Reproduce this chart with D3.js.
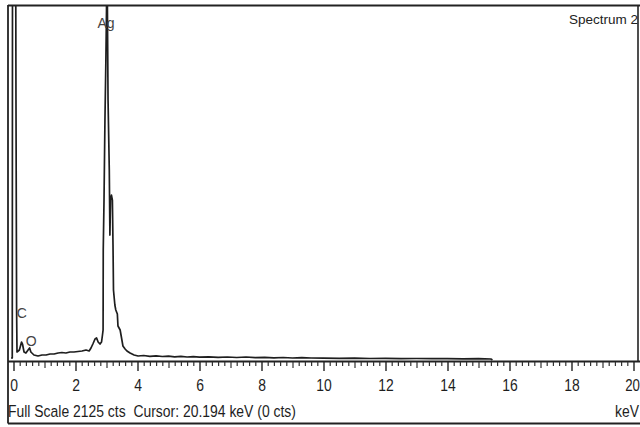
<!DOCTYPE html>
<html><head><meta charset="utf-8">
<script src="https://cdn.jsdelivr.net/npm/d3@7"></script>
<style>html,body{margin:0;padding:0;background:#fff;overflow:hidden}</style>
</head><body>
<svg id="chart" width="640" height="427"></svg>
<script>
// EDS spectrum: energy channels (keV) and counts
const energyKeV = [-0.08,-0.04,-0.03,0.065,0.08,0.10,0.113,0.19,0.26,0.29,0.34,0.40,0.47,0.52,0.56,0.66,0.79,0.92,1.05,1.18,1.31,1.44,1.56,1.69,1.82,1.95,2.08,2.21,2.34,2.44,2.50,2.56,2.63,2.68,2.73,2.79,2.84,2.87,2.89,2.895,2.92,2.95,2.98,3.00,3.016,3.03,3.05,3.09,3.11,3.13,3.16,3.19,3.21,3.225,3.27,3.30,3.35,3.37,3.44,3.48,3.53,3.60,3.66,3.76,3.89,4.02,4.2,4.4,4.6,4.8,5.0,5.2,5.4,5.6,5.8,6.0,6.3,6.6,6.9,7.2,7.5,7.8,8.1,8.4,8.7,9.0,9.3,9.6,10.0,10.5,11.0,11.5,12.0,12.5,13.0,13.5,14.0,14.5,15.0,15.4,15.45];
const countsCts = [12,12,3000,3000,1560,300,48,60,108,96,48,42,60,72,48,30,24,30,30,36,36,42,45,42,48,48,51,54,60,54,72,96,126,132,108,96,108,150,180,660,960,1440,1800,2100,3000,2100,1560,1140,750,960,990,960,690,420,330,300,276,204,180,138,84,66,54,42,30,24,27,22,25,21,23,19,22,18,20,17,19,16,18,15,18,14,16,13,15,12,14,12,11,10,11,9,10,8,9,8,8,7,8,6,0];

// Peak labels (element, line energy, label height in counts)
const peakNames = ["Ag","C","O"];
const peakKeV = [2.984,0.27,0.57];
const peakLabelCts = [1995,255,85];

// Axis ticks
const majorTicks = [0,2,4,6,8,10,12,14,16,18,20];
const xDomain = [0,20];
const fullScale = 2125;
const footerText = "Full Scale 2125 cts  Cursor: 20.194 keV (0 cts)";
const unitText = "keV";
const titleText = "Spectrum 2";

const svg = d3.select("#chart");
const x = d3.scaleLinear().domain(xDomain).range([13.5, 633.5]);
const y = d3.scaleLinear().domain([0, fullScale]).range([360, 6]);

const FONT = "'Liberation Sans', Arial, sans-serif";

// clip region for the spectrum trace
svg.append("defs").append("clipPath").attr("id","plotClip")
  .append("rect").attr("x",8.5).attr("y",6).attr("width",629).attr("height",355);

// spectrum trace
const pts = energyKeV.map((e,i)=>[e,countsCts[i]]);
svg.append("path")
  .datum(pts)
  .attr("clip-path","url(#plotClip)")
  .attr("fill","none")
  .attr("stroke","#1e1e1e")
  .attr("stroke-width",1.7)
  .attr("stroke-linejoin","round")
  .attr("d", d3.line().x(d=>x(d[0])).y(d=>y(d[1])));

// frame
const frame = svg.append("g").attr("stroke","#222").attr("fill","none");
frame.append("line").attr("x1",8).attr("x2",640).attr("y1",5.5).attr("y2",5.5).attr("stroke-width",1.8);
frame.append("line").attr("x1",8).attr("x2",8).attr("y1",5).attr("y2",423.5).attr("stroke-width",1.8);
frame.append("line").attr("x1",638).attr("x2",638).attr("y1",5).attr("y2",362).attr("stroke-width",1.6);
frame.append("line").attr("x1",8).attr("x2",640).attr("y1",361.5).attr("y2",361.5).attr("stroke-width",1.8);
frame.append("line").attr("x1",8).attr("x2",640).attr("y1",423.5).attr("y2",423.5).attr("stroke-width",1.8);

// minor ticks every 0.2 keV, medium every 1 keV, major every 2 keV with labels
const axisY = 362;
const minorVals = d3.range(0, 100.5, 1).map(v=>v/5).filter(v=>Math.round(v*5)%5!==0);
const midVals = d3.range(1, 20, 2);
svg.append("g").attr("transform",`translate(0,${axisY})`)
  .call(d3.axisBottom(x).tickValues(minorVals).tickSize(4).tickFormat(""))
  .call(g=>g.select(".domain").remove())
  .call(g=>g.selectAll("line").attr("stroke","#333").attr("stroke-width",1.2));
svg.append("g").attr("transform",`translate(0,${axisY})`)
  .call(d3.axisBottom(x).tickValues(midVals).tickSize(6).tickFormat(""))
  .call(g=>g.select(".domain").remove())
  .call(g=>g.selectAll("line").attr("stroke","#333").attr("stroke-width",1.2));
const major = svg.append("g").attr("transform",`translate(0,${axisY})`)
  .call(d3.axisBottom(x).tickValues(majorTicks).tickSize(9).tickPadding(0).tickFormat(d3.format("d")))
  .call(g=>g.select(".domain").remove());
major.selectAll("line").attr("stroke","#222").attr("stroke-width",1.4);
major.selectAll("text")
  .attr("y",29).attr("dy",null)
  .attr("fill","#1e1e1e")
  .style("font-family",FONT).style("font-size","17px")
  .attr("transform",d=> d === xDomain[1] ? "translate(-1.5,0) scale(0.78,1)" : "scale(0.82,1)");

// footer status line and unit
svg.append("text")
  .attr("transform","translate(8,417) scale(0.82,1)")
  .attr("fill","#1e1e1e").style("font-family",FONT).style("font-size","17px")
  .style("white-space","pre")
  .text(footerText);
svg.append("text").attr("text-anchor","end")
  .attr("transform","translate(639,417) scale(0.82,1)")
  .attr("fill","#1e1e1e").style("font-family",FONT).style("font-size","17px")
  .text(unitText);

// spectrum name
svg.append("text").attr("x",569).attr("y",24)
  .attr("fill","#222").style("font-family",FONT).style("font-size","13.5px")
  .text(titleText);

// element peak labels
svg.selectAll("text.peak").data(peakNames).join("text")
  .attr("class","peak")
  .attr("x",(d,i)=>x(peakKeV[i]))
  .attr("y",(d,i)=>y(peakLabelCts[i]))
  .attr("text-anchor","middle")
  .attr("fill","#444").style("font-family",FONT).style("font-size","14px")
  .text(d=>d);
</script>
</body></html>
